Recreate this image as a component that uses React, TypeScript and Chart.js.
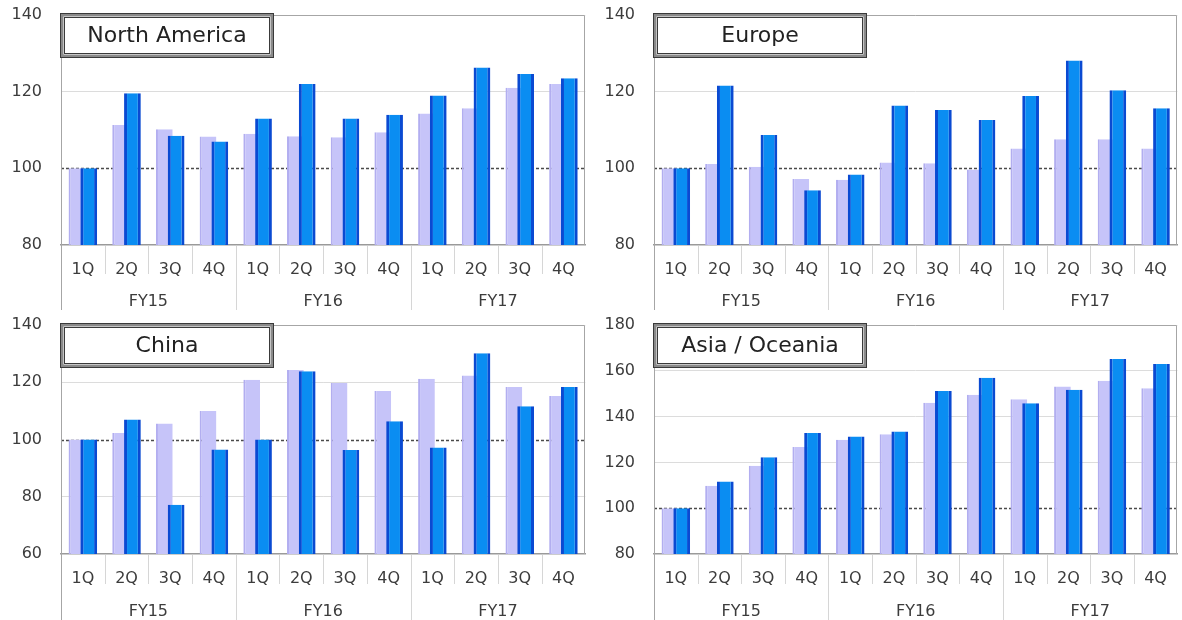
import React, { useEffect, useRef } from 'react';
import { Chart, registerables } from 'chart.js';

Chart.register(...registerables);

// Quarter and fiscal-year labels shared by all four panels
const quarters = ['1Q', '2Q', '3Q', '4Q', '1Q', '2Q', '3Q', '4Q', '1Q', '2Q', '3Q', '4Q'];
const fiscalYears = ['FY15', 'FY16', 'FY17'];

// Index values (FY15 1Q = 100); "base" = lavender bars, "main" = blue bars
const northAmericaBase = [100, 111.3, 110.2, 108.3, 109.0, 108.4, 108.1, 109.4, 114.3, 115.7, 121.0, 122.0];
const northAmericaMain = [100, 119.6, 108.5, 107.0, 113.0, 122.0, 113.0, 114.0, 119.0, 126.3, 124.6, 123.5];

const europeBase = [100, 101.1, 100.4, 97.2, 97.0, 101.5, 101.3, 99.7, 105.2, 107.6, 107.6, 105.2];
const europeMain = [100, 121.6, 108.7, 94.3, 98.4, 116.4, 115.2, 112.6, 118.9, 128.1, 120.4, 115.7];

const chinaBase = [100, 102.3, 105.6, 110.0, 120.9, 124.3, 119.7, 116.9, 121.2, 122.4, 118.3, 115.2];
const chinaMain = [100, 107.0, 77.2, 96.5, 100, 123.8, 96.3, 106.4, 97.2, 130.1, 111.6, 118.3];

const asiaBase = [100, 109.8, 118.5, 126.7, 129.9, 132.3, 146.1, 149.5, 147.6, 153.1, 155.7, 152.4];
const asiaMain = [100, 111.7, 122.2, 132.8, 131.3, 133.5, 151.2, 157.0, 145.8, 151.7, 165.2, 163.0];

const FONT = '"DejaVu Sans", Verdana, sans-serif';

type PanelProps = {
  title: string;
  base: number[];
  main: number[];
  min: number;
  max: number;
  left: number;
  top: number;
  width: number;
  height: number;
  yWidth: number;
  padTop: number;
  padRight: number;
  qHeight: number;
  fyHeight: number;
};

function Panel(p: PanelProps) {
  const ref = useRef<HTMLCanvasElement>(null);

  useEffect(() => {
    const canvas = ref.current;
    if (!canvas) return;

    const decor = {
      id: 'decor',
      beforeDatasetsDraw(chart: any) {
        // dotted reference line at 100
        const { ctx, chartArea: a, scales } = chart;
        const y = Math.round(scales.y.getPixelForValue(100)) + 0.5;
        ctx.save();
        ctx.strokeStyle = '#4a4a4a';
        ctx.lineWidth = 1.5;
        ctx.setLineDash([3, 2]);
        ctx.beginPath();
        ctx.moveTo(a.left, y);
        ctx.lineTo(a.right, y);
        ctx.stroke();
        ctx.restore();
      },
      beforeDatasetDraw(_chart: any, args: any) {
        // the blue series is painted last so it sits in front
        if (args.index === 1) return false;
        return true;
      },
      afterDatasetsDraw(chart: any) {
        const { ctx, chartArea: a } = chart;
        ctx.save();
        ctx.beginPath();
        ctx.rect(a.left, a.top, a.right - a.left, a.bottom - a.top);
        ctx.clip();
        chart.getDatasetMeta(1).controller.draw();
        ctx.restore();
      },
      afterDraw(chart: any) {
        const { ctx, chartArea: a, scales } = chart;
        const xs = scales.x;
        const step = xs.getPixelForValue(1) - xs.getPixelForValue(0);
        ctx.save();

        // separators in the category label area
        ctx.strokeStyle = '#d6d6d6';
        ctx.lineWidth = 1;
        for (let i = 1; i < quarters.length; i++) {
          const px = Math.round(xs.getPixelForValue(i) - step / 2) + 0.5;
          const yearEdge = i % 4 === 0;
          ctx.beginPath();
          ctx.moveTo(px, a.bottom + 1);
          ctx.lineTo(px, yearEdge ? chart.height : a.bottom + p.qHeight - 4);
          ctx.stroke();
        }

        // plot frame
        ctx.strokeStyle = '#a6a6a6';
        ctx.beginPath();
        ctx.moveTo(Math.round(a.left) + 0.5, chart.height);
        ctx.lineTo(Math.round(a.left) + 0.5, Math.round(a.top) + 0.5);
        ctx.lineTo(Math.round(a.right) - 0.5, Math.round(a.top) + 0.5);
        ctx.lineTo(Math.round(a.right) - 0.5, a.bottom);
        ctx.stroke();

        // region title box with a double border
        const bx = Math.round(a.left) - 1;
        const by = Math.round(a.top) - 2;
        const bw = 214;
        const bh = 45;
        ctx.fillStyle = '#ffffff';
        ctx.fillRect(bx, by, bw, bh);
        ctx.strokeStyle = '#8a8a8a';
        ctx.lineWidth = 3;
        ctx.strokeRect(bx + 2, by + 2, bw - 4, bh - 4);
        ctx.strokeStyle = '#3a3a3a';
        ctx.lineWidth = 1;
        ctx.strokeRect(bx + 0.5, by + 0.5, bw - 1, bh - 1);
        ctx.strokeRect(bx + 4.5, by + 4.5, bw - 9, bh - 9);
        ctx.fillStyle = '#222222';
        ctx.font = `22px ${FONT}`;
        ctx.textAlign = 'center';
        ctx.textBaseline = 'middle';
        ctx.fillText(p.title, bx + bw / 2, by + bh / 2 + 1);
        ctx.restore();
      },
    };

    const chart = new Chart(canvas, {
      type: 'bar',
      data: {
        labels: quarters,
        datasets: [
          {
            data: p.base,
            backgroundColor: '#c6c4f9',
            borderColor: '#b2aef0',
            borderWidth: { left: 2, right: 0, top: 0, bottom: 0 },
            borderSkipped: false,
            categoryPercentage: 0.54,
            barPercentage: 1.42,
          },
          {
            data: p.main,
            backgroundColor: '#0a8df2',
            borderColor: '#0a4ad2',
            borderWidth: { left: 3, right: 3, top: 0, bottom: 0 },
            borderSkipped: false,
            categoryPercentage: 0.54,
            barPercentage: 1.42,
          },
        ],
      },
      options: {
        animation: false,
        responsive: false,
        events: [],
        layout: { padding: { left: 0, top: p.padTop, right: p.padRight, bottom: 0 } },
        plugins: {
          legend: { display: false },
          tooltip: { enabled: false },
        },
        scales: {
          x: {
            type: 'category',
            position: 'bottom',
            weight: 0,
            offset: true,
            grid: { display: false, drawTicks: false },
            border: { display: true, color: '#9a9a9a', width: 1.5 },
            ticks: {
              font: { family: FONT, size: 16 },
              color: '#3c3c3c',
              padding: 15,
              maxRotation: 0,
              autoSkip: false,
            },
            afterFit: (s: any) => {
              s.height = p.qHeight;
            },
          },
          x2: {
            type: 'category',
            labels: fiscalYears,
            position: 'bottom',
            weight: 1,
            offset: true,
            grid: { display: false, drawTicks: false },
            border: { display: false },
            ticks: {
              font: { family: FONT, size: 16 },
              color: '#3c3c3c',
              padding: 14,
              maxRotation: 0,
              autoSkip: false,
            },
            afterFit: (s: any) => {
              s.height = p.fyHeight;
            },
          },
          y: {
            min: p.min,
            max: p.max,
            border: { display: false },
            grid: {
              drawTicks: true,
              tickLength: 19,
              tickColor: 'rgba(0,0,0,0)',
              color: (c: any) =>
                c.tick && (c.tick.value === 100 || c.tick.value === p.min) ? 'rgba(0,0,0,0)' : '#dcdcdc',
            },
            ticks: {
              stepSize: 20,
              font: { family: FONT, size: 16 },
              color: '#3c3c3c',
              padding: 0,
            },
            afterFit: (s: any) => {
              s.width = p.yWidth;
            },
          },
        },
      },
      plugins: [decor],
    } as any);

    return () => chart.destroy();
  }, []);

  return (
    <canvas
      ref={ref}
      width={p.width}
      height={p.height}
      style={{ position: 'absolute', left: p.left, top: p.top, width: p.width, height: p.height }}
    />
  );
}

export default function App() {
  return (
    <div style={{ position: 'fixed', left: 0, top: 0, width: 1182, height: 620, background: '#ffffff' }}>
      <Panel title="North America" base={northAmericaBase} main={northAmericaMain} min={80} max={140}
        left={0} top={0} width={590} height={310} yWidth={61} padTop={15} padRight={4} qHeight={33} fyHeight={32} />
      <Panel title="Europe" base={europeBase} main={europeMain} min={80} max={140}
        left={590} top={0} width={592} height={310} yWidth={64} padTop={15} padRight={1} qHeight={33} fyHeight={32} />
      <Panel title="China" base={chinaBase} main={chinaMain} min={60} max={140}
        left={0} top={310} width={590} height={310} yWidth={61} padTop={15} padRight={4} qHeight={34} fyHeight={32} />
      <Panel title="Asia / Oceania" base={asiaBase} main={asiaMain} min={80} max={180}
        left={590} top={310} width={592} height={310} yWidth={64} padTop={15} padRight={1} qHeight={34} fyHeight={32} />
    </div>
  );
}
